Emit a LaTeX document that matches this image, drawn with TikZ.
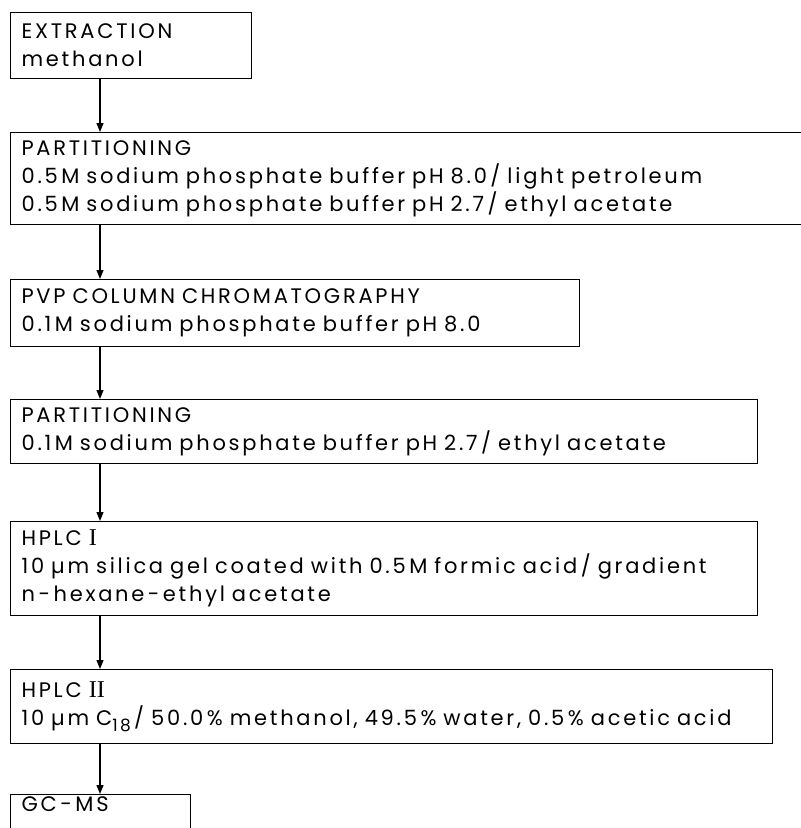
\documentclass[tikz,border=0pt]{standalone}
\usepackage{fontspec}
\setmainfont{Poppins}[LetterSpace=13]
\newfontfamily\romfont{Liberation Serif}[Scale=1.15]
\usetikzlibrary{arrows.meta}
\newcommand{\boxfont}{\fontsize{21}{28}\selectfont\setlength{\spaceskip}{19pt}}
\tikzset{
  stepbox/.style={draw, line width=1.2pt, anchor=north west, align=left,
    inner xsep=11pt, inner ysep=0pt, font=\boxfont},
  flow/.style={-{Triangle[length=9pt,width=7pt]}, line width=1.2pt}
}
\newcommand{\subnum}[1]{\raisebox{-6pt}{\fontsize{17}{17}\selectfont #1}}

\begin{document}
\begin{tikzpicture}[x=1pt,y=-1pt]
  \clip (0,0) rectangle (801,828);
  % sample work-up steps
  \node[stepbox, text width=219pt, minimum height=66pt] (extr) at (10,12)
    {EXTRACTION\\methanol};
  \node[stepbox, text width=778pt, minimum height=92pt] (partA) at (10,132)
    {PARTITIONING\\
     0.5\,M sodium phosphate buffer pH 8.0\,/ light petroleum\\
     0.5\,M sodium phosphate buffer pH 2.7\,/ ethyl acetate};
  \node[stepbox, text width=547pt, minimum height=67pt] (pvp) at (10,279)
    {PVP COLUMN CHROMATOGRAPHY\\
     0.1\,M sodium phosphate buffer pH 8.0};
  \node[stepbox, text width=725pt, minimum height=64pt] (partB) at (10,399)
    {PARTITIONING\\
     0.1\,M sodium phosphate buffer pH 2.7\,/ ethyl acetate};
  % HPLC
  \node[stepbox, text width=725pt, minimum height=94pt] (hplcA) at (10,521)
    {HPLC {\romfont I}\\
     10 µm silica gel coated with 0.5\,M formic acid\,/ gradient\\
     n\,-\,hexane\,-\,ethyl acetate};
  \node[stepbox, text width=740pt, minimum height=74pt] (hplcB) at (10,669)
    {HPLC {\romfont II}\\
     10 µm C\subnum{18}\,/ 50.0\,\% methanol, 49.5\,\% water, 0.5\,\% acetic acid};
  \node[stepbox, text width=158pt, minimum height=56pt] (gcms) at (10,794)
    {GC\,-\,MS\\ \strut};
  % arrows
  \foreach \a/\b in {extr/partA, partA/pvp, pvp/partB, partB/hplcA, hplcA/hplcB, hplcB/gcms}
    \draw[flow] ([xshift=90pt]\a.south west) -- ([xshift=90pt]\b.north west);
\end{tikzpicture}
\end{document}
